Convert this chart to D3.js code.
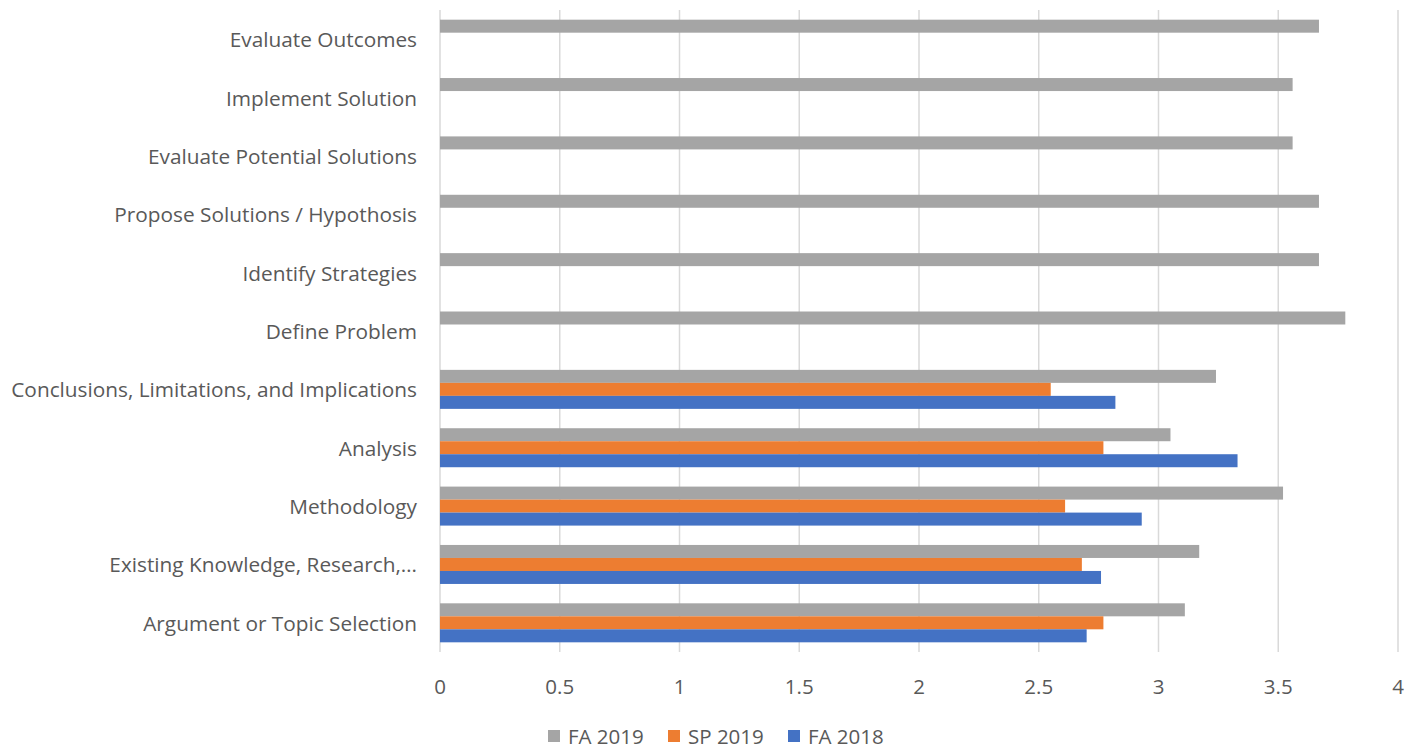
<!DOCTYPE html>
<html><head><meta charset="utf-8">
<script src="https://cdnjs.cloudflare.com/ajax/libs/d3/7.8.5/d3.min.js"></script>
<style>
html,body{margin:0;padding:0;background:#fff;}
svg{display:block;}
text{font-family:"Open Sans","Noto Sans",sans-serif;fill:#595959;}
</style></head>
<body>
<svg id="chart" width="1421" height="749"></svg>
<script>
// Categories listed bottom to top, as in the chart
const categories = [
  "Argument or Topic Selection",
  "Existing Knowledge, Research,…",
  "Methodology",
  "Analysis",
  "Conclusions, Limitations, and Implications",
  "Define Problem",
  "Identify Strategies",
  "Propose Solutions / Hypothosis",
  "Evaluate Potential Solutions",
  "Implement Solution",
  "Evaluate Outcomes"
];
const fa2018 = [2.70, 2.76, 2.93, 3.33, 2.82, null, null, null, null, null, null];
const sp2019 = [2.77, 2.68, 2.61, 2.77, 2.55, null, null, null, null, null, null];
const fa2019 = [3.11, 3.17, 3.52, 3.05, 3.24, 3.78, 3.67, 3.67, 3.56, 3.56, 3.67];
const seriesNames = ["FA 2019", "SP 2019", "FA 2018"];
const seriesColors = ["#a5a5a5", "#ed7d31", "#4472c4"];
const xTicks = [0, 0.5, 1, 1.5, 2, 2.5, 3, 3.5, 4];

(function () {
const seriesData = [fa2019, sp2019, fa2018];

const svg = d3.select("#chart");
const mLeft = 440, mRight = 1398, mTop = 10, mBottom = 652;

const x = d3.scaleLinear().domain([0, 4]).range([mLeft, mRight]);
const y0 = d3.scaleBand().domain(categories.slice().reverse()).range([mTop, mBottom]).padding(0);
const y1 = d3.scaleBand().domain(seriesNames).range([0, y0.bandwidth()]).paddingInner(0).paddingOuter(0.745);

// gridlines
svg.append("g").selectAll("line").data(xTicks).join("line")
  .attr("x1", d => x(d)).attr("x2", d => x(d))
  .attr("y1", mTop).attr("y2", mBottom)
  .attr("stroke", "#d9d9d9").attr("stroke-width", 1.5);

// x tick labels
svg.append("g").selectAll("text").data(xTicks).join("text")
  .attr("x", d => x(d)).attr("y", 686)
  .attr("text-anchor", "middle").attr("dominant-baseline", "central")
  .attr("font-size", 20.5)
  .text(d => d3.format("~g")(d));

// bars
const groups = svg.append("g").selectAll("g").data(categories).join("g")
  .attr("transform", d => `translate(0,${y0(d)})`);
seriesNames.forEach((s, si) => {
  groups.filter((d, i) => seriesData[si][i] != null)
    .append("rect")
    .attr("x", x(0))
    .attr("y", y1(s))
    .attr("height", y1.bandwidth())
    .attr("width", d => x(seriesData[si][categories.indexOf(d)]) - x(0))
    .attr("fill", seriesColors[si]);
});

// category labels
svg.append("g").selectAll("text").data(categories).join("text")
  .attr("x", 417).attr("y", d => y0(d) + y0.bandwidth() / 2)
  .attr("text-anchor", "end").attr("dominant-baseline", "central")
  .attr("font-size", 20.8)
  .text(d => d);

// legend
const legendX = [548, 668, 788];
const lg = svg.append("g").selectAll("g").data(seriesNames).join("g")
  .attr("transform", (d, i) => `translate(${legendX[i]},736)`);
lg.append("rect").attr("x", 0).attr("y", -6).attr("width", 12).attr("height", 12)
  .attr("fill", (d, i) => seriesColors[i]);
lg.append("text").attr("x", 20).attr("y", 0).attr("dominant-baseline", "central")
  .attr("font-size", 20.5).text(d => d);
})();
</script>
</body></html>
